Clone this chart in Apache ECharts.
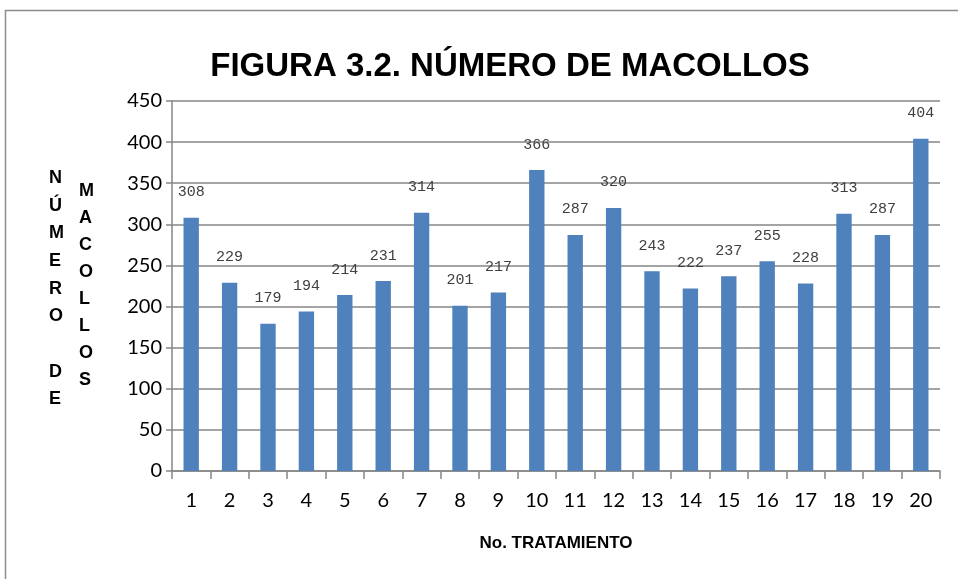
<!DOCTYPE html>
<html>
<head>
<meta charset="utf-8">
<script src="https://cdn.jsdelivr.net/npm/echarts@6/dist/echarts.min.js"></script>
<style>
html, body { margin: 0; padding: 0; background: #fff; }
#container { width: 958px; height: 579px; }
</style>
</head>
<body>
<div id="container"></div>
<script>
var dom = document.getElementById('container');
var myChart = echarts.init(dom, null, { renderer: 'canvas' });

// datos
var tratamientos = ['1','2','3','4','5','6','7','8','9','10','11','12','13','14','15','16','17','18','19','20'];
var macollos = [308, 229, 179, 194, 214, 231, 314, 201, 217, 366, 287, 320, 243, 222, 237, 255, 228, 313, 287, 404];

var option = {
    animation: false,
    backgroundColor: '#fff',
    title: {
        text: 'FIGURA 3.2. NÚMERO DE MACOLLOS',
        left: 505,
        textAlign: 'center',
        top: 45,
        textStyle: {
            fontFamily: 'Liberation Sans',
            fontWeight: 'bold',
            fontSize: 33,
            color: '#000'
        }
    },
    graphic: [
        {
            type: 'rect',
            shape: { x: 5.5, y: 10.5, width: 960, height: 580 },
            style: { fill: null, stroke: '#8c8c8c', lineWidth: 1.5 },
            silent: true
        },
        {
            type: 'text',
            left: 49, top: 164,
            style: {
                text: 'N\nÚ\nM\nE\nR\nO\n\nD\nE',
                font: 'bold 18px "Liberation Sans"',
                lineHeight: 27.7,
                fill: '#000',
                align: 'center'
            }
        },
        {
            type: 'text',
            left: 79, top: 178,
            style: {
                text: 'M\nA\nC\nO\nL\nL\nO\nS',
                font: 'bold 18px "Liberation Sans"',
                lineHeight: 27,
                fill: '#000',
                align: 'center'
            }
        }
    ],
    grid: {
        left: 172,
        right: 18,
        top: 101,
        bottom: 108
    },
    xAxis: {
        type: 'category',
        data: tratamientos,
        name: 'No. TRATAMIENTO',
        nameLocation: 'middle',
        nameGap: 64,
        nameTextStyle: {
            fontFamily: 'Liberation Sans',
            fontWeight: 'bold',
            fontSize: 17,
            color: '#000'
        },
        axisLine: { lineStyle: { color: '#868686', width: 1.5 } },
        axisTick: { show: true, length: 8, lineStyle: { color: '#868686', width: 1.5 } },
        axisLabel: {
            margin: 20,
            fontFamily: 'Lato',
            fontSize: 20,
            color: '#000'
        }
    },
    yAxis: {
        type: 'value',
        min: 0,
        max: 450,
        interval: 50,
        axisLine: { show: true, lineStyle: { color: '#868686', width: 1.5 } },
        axisTick: { show: true, length: 6, inside: false, lineStyle: { color: '#868686', width: 1.5 } },
        splitLine: { lineStyle: { color: '#868686', width: 1.5 } },
        axisLabel: {
            margin: 10,
            fontFamily: 'Lato',
            fontSize: 20,
            color: '#000'
        }
    },
    series: [
        {
            type: 'bar',
            data: macollos,
            barWidth: '40%',
            itemStyle: { color: '#4f81bd' },
            label: {
                show: true,
                position: 'top',
                distance: 18,
                fontFamily: 'Liberation Mono',
                fontSize: 15,
                color: '#404040'
            }
        }
    ]
};

myChart.setOption(option);
window.addEventListener('resize', myChart.resize);
</script>
</body>
</html>
